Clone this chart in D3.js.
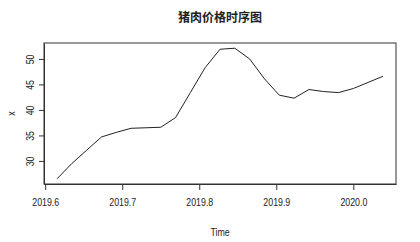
<!DOCTYPE html>
<html>
<head>
<meta charset="utf-8">
<script src="https://cdn.jsdelivr.net/npm/d3@7"></script>
<style>
  body { margin: 0; background: #fff; }
  text { font-family: "Liberation Sans Narrow", "Arial Narrow", "Liberation Sans", sans-serif; fill: #222; }
</style>
</head>
<body>
<svg id="chart"></svg>
<script>
// weekly series, frequency 52, starting at week 32 of 2019
const startWeek = 32;
const freq = 52;
const prices = [26.5, 29.5, 32.1, 34.7, 35.6, 36.4, 36.5, 36.6, 38.5, 43.4, 48.3, 51.9,
  52.1, 50.0, 46.1, 42.9, 42.3, 44.0, 43.6, 43.4, 44.2, 45.4, 46.6];
const xTicks = [2019.6, 2019.7, 2019.8, 2019.9, 2020.0];
const yTicks = [30, 35, 40, 45, 50];
const title = '猪肉价格时序图';

const width = 420, height = 242;
const margin = { top: 43, right: 24, bottom: 58, left: 44 };
const innerW = width - margin.left - margin.right;
const innerH = height - margin.top - margin.bottom;
const narrow = 0.8; // the original labels use a condensed face

const data = prices.map((v, i) => ({ t: 2019 + (startWeek + i) / freq, v }));

// R-style 4% padding on both axes
const pad = ([a, b]) => { const r = b - a; return [a - 0.04 * r, b + 0.04 * r]; };

const x = d3.scaleLinear()
  .domain(pad(d3.extent(data, d => d.t)))
  .range([0, innerW]);

const y = d3.scaleLinear()
  .domain(pad(d3.extent(data, d => d.v)))
  .range([innerH, 0]);

const svg = d3.select('#chart')
  .attr('width', width)
  .attr('height', height);

const g = svg.append('g')
  .attr('transform', `translate(${margin.left},${margin.top})`);

// x axis
const xAxis = g.append('g')
  .attr('transform', `translate(0,${innerH})`)
  .call(d3.axisBottom(x).tickValues(xTicks).tickFormat(d3.format('.1f')).tickSizeInner(6).tickSizeOuter(0).tickPadding(8));
xAxis.selectAll('.tick text')
  .attr('transform', `scale(${narrow},1)`);

// y axis with rotated labels
const yAxis = g.append('g')
  .call(d3.axisLeft(y).tickValues(yTicks).tickSizeInner(5).tickSizeOuter(0));
yAxis.selectAll('.tick text')
  .attr('x', 0).attr('dy', null)
  .attr('transform', `translate(-14,0) rotate(-90) scale(${narrow},1)`)
  .attr('text-anchor', 'middle')
  .attr('dominant-baseline', 'central');

g.selectAll('.domain, .tick line').attr('stroke', '#333');
g.selectAll('.tick text').style('font-size', '11px').attr('fill', '#222');

// box
g.append('rect')
  .attr('width', innerW)
  .attr('height', innerH)
  .attr('fill', 'none')
  .attr('stroke', '#333');

// series line
g.append('path')
  .datum(data)
  .attr('fill', 'none')
  .attr('stroke', '#222')
  .attr('stroke-width', 1)
  .attr('d', d3.line().x(d => x(d.t)).y(d => y(d.v)));

// titles
svg.append('text')
  .attr('x', margin.left + innerW / 2)
  .attr('y', 16)
  .attr('text-anchor', 'middle')
  .attr('dominant-baseline', 'central')
  .style('font-family', '"Noto Sans CJK SC", sans-serif')
  .style('font-weight', 'bold')
  .style('font-size', '12px')
  .text(title);

svg.append('text')
  .attr('transform', `translate(${margin.left + innerW / 2},232) scale(${narrow},1)`)
  .attr('text-anchor', 'middle')
  .attr('dominant-baseline', 'central')
  .style('font-size', '11px')
  .text('Time');

svg.append('text')
  .attr('transform', `translate(11,${margin.top + innerH / 2}) rotate(-90) scale(${narrow},1)`)
  .attr('text-anchor', 'middle')
  .attr('dominant-baseline', 'central')
  .style('font-size', '11px')
  .text('x');
</script>
</body>
</html>
